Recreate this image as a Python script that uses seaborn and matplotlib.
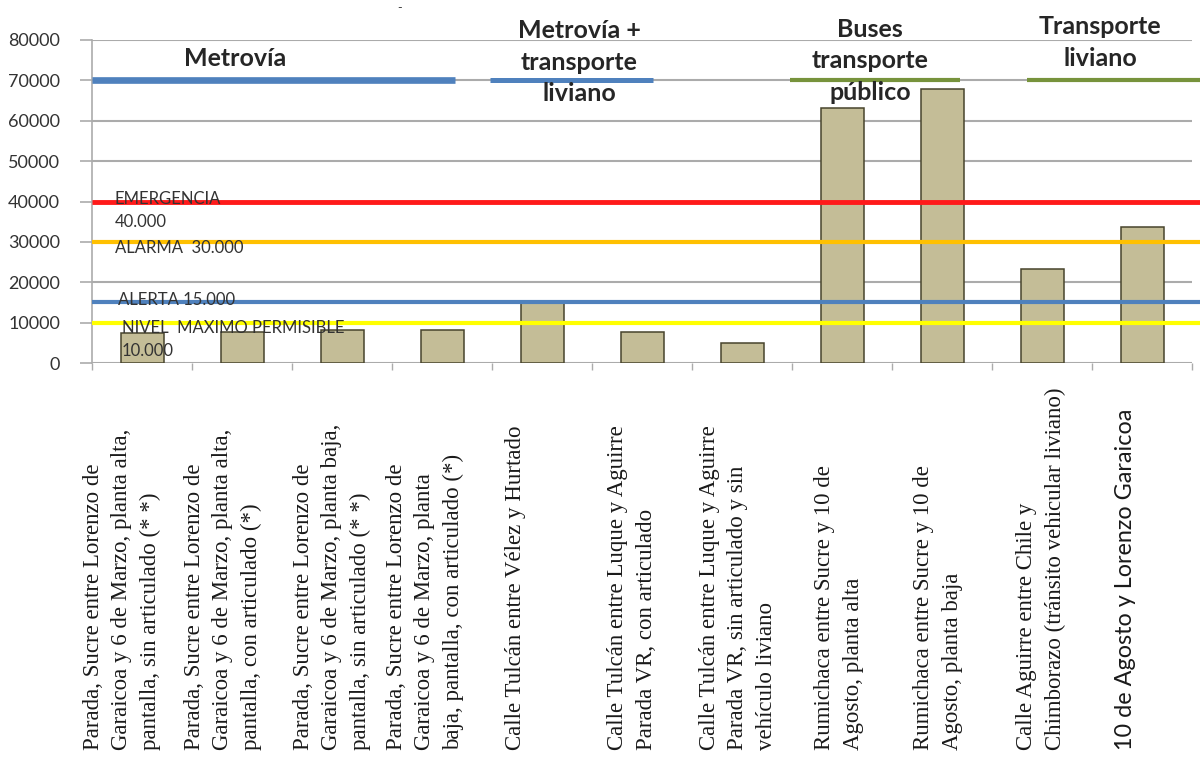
import matplotlib
matplotlib.use("Agg")
import matplotlib.pyplot as plt
import matplotlib.transforms as mtransforms
import pandas as pd
import seaborn as sns

# Sampling sites (x categories)
sites = [
    "Parada, Sucre entre Lorenzo de\nGaraicoa y 6 de Marzo, planta alta,\npantalla, sin articulado (* *)",
    "Parada, Sucre entre Lorenzo de\nGaraicoa y 6 de Marzo, planta alta,\npantalla, con articulado (*)",
    "Parada, Sucre entre Lorenzo de\nGaraicoa y 6 de Marzo, planta baja,\npantalla, sin articulado (* *)",
    "Parada, Sucre entre Lorenzo de\nGaraicoa y 6 de Marzo, planta\nbaja, pantalla, con articulado (*)",
    "Calle Tulcán entre Vélez y Hurtado",
    "Calle Tulcán entre Luque y Aguirre\nParada VR, con articulado",
    "Calle Tulcán entre Luque y Aguirre\nParada VR, sin articulado y sin\nvehículo liviano",
    "Rumichaca entre Sucre y 10 de\nAgosto, planta alta",
    "Rumichaca entre Sucre y 10 de\nAgosto, planta baja",
    "Calle Aguirre entre Chile y\nChimborazo (tránsito vehicular liviano)",
    "10 de Agosto y Lorenzo Garaicoa",
]
# Measured values
values = [7400, 7600, 8200, 8200, 15100, 7700, 5000, 63100, 67800, 23300, 33700]

# Threshold levels
threshold_values = [40000, 30000, 15000, 10000]
threshold_names = ["EMERGENCIA\n40.000", "ALARMA  30.000", "ALERTA 15.000",
                   "NIVEL  MAXIMO PERMISIBLE\n10.000"]
threshold_colors = ["#FF1A1A", "#FFC000", "#4F81BD", "#FFFF00"]

# Transport-mode groups shown above the bars
group_names = ["Metrovía", "Metrovía +\ntransporte\nliviano",
               "Buses\ntransporte\npúblico", "Transporte\nliviano"]
group_level = 70000
group_colors = ["#4F81BD", "#4F81BD", "#77933C", "#77933C"]

y_ticks = [0, 10000, 20000, 30000, 40000, 50000, 60000, 70000, 80000]

df = pd.DataFrame({"sitio": sites, "valor": values})

sns.set_theme(style="white")
plt.rcParams["font.family"] = ["Lato", "DejaVu Sans"]

fig = plt.figure(figsize=(12, 7.65), dpi=100)
ax = fig.add_axes([92 / 1200, 1 - 363 / 765, 1100 / 1200, 323 / 765])

sns.barplot(data=df, x="sitio", y="valor", color="#C4BD97", saturation=1,
            width=0.43, edgecolor="#48442C", linewidth=1.1, ax=ax, zorder=3)

ax.set_xlim(-0.5, len(sites) - 0.5)
ax.set_ylim(0, 80000)
ax.set_yticks(y_ticks)
ax.set_yticklabels([str(v) for v in y_ticks], fontsize=13, color="#333333")
ax.set_xticks([i - 0.5 for i in range(len(sites) + 1)])
ax.set_xticklabels([])
ax.set_xlabel("")
ax.set_ylabel("")

# Gridlines and axis styling
ax.grid(axis="y", color="#ABABAB", linewidth=1.5, zorder=0)
ax.grid(axis="x", visible=False)
for side in ["top", "right", "bottom"]:
    ax.spines[side].set_visible(False)
ax.spines["left"].set_color("#ABABAB")
ax.spines["left"].set_linewidth(1.2)
ax.tick_params(axis="y", length=9, width=1.2, color="#ABABAB", pad=14, left=True)
ax.tick_params(axis="x", length=5, width=1.0, color="#ABABAB", bottom=True, direction="out")

# Threshold lines with their labels
x_end = len(sites) - 0.42
th_label_pos = [(-0.27, 37770), (-0.27, 28480), (-0.24, 15600), (-0.20, 5820)]
th_widths = [3.5, 3.0, 3.0, 3.0]
for val, name, col, lw, (tx, ty) in zip(threshold_values, threshold_names,
                                         threshold_colors, th_widths, th_label_pos):
    ax.plot([-0.5, x_end], [val, val], color=col, linewidth=lw,
            solid_capstyle="butt", clip_on=False, zorder=4)
    ax.text(tx, ty, name, fontsize=12, color="#333333", ha="left", va="center",
            linespacing=1.55, zorder=6)

# Group bars and titles
group_spans = [(-0.5, 3.13), (3.48, 5.11), (6.48, 8.18), (8.85, x_end)]
group_widths = [4.8, 3.6, 3.0, 3.0]
group_label_pos = [(0.93, 75540), (4.37, 74550), (7.28, 74800), (9.58, 79380)]
for name, col, (x0, x1), lw, (gx, gy) in zip(group_names, group_colors, group_spans,
                                              group_widths, group_label_pos):
    ax.plot([x0, x1], [group_level, group_level], color=col, linewidth=lw,
            solid_capstyle="butt", clip_on=False, zorder=4)
    ax.text(gx, gy, name, fontsize=18, fontweight="bold", color="#262626",
            ha="center", va="center", linespacing=1.45, clip_on=False, zorder=6)

# Site labels, rotated and aligned to the bottom of the figure
label_shift = [-0.2, -0.19, -0.1, -0.17, -0.27, -0.1, -0.04, -0.03, -0.04, -0.01, -0.17]
trans = mtransforms.blended_transform_factory(ax.transData, fig.transFigure)
for i, (label, dx) in enumerate(zip(sites, label_shift)):
    if i == len(sites) - 1:
        fam, size = ["Lato", "DejaVu Sans"], 16.8
    else:
        fam, size = ["Liberation Serif", "DejaVu Serif"], 16.5
    ax.text(i + dx, 1 - 750 / 765, label, transform=trans, rotation=90,
            ha="center", va="bottom", multialignment="left", fontsize=size,
            family=fam, color="#1A1A1A", linespacing=1.45, clip_on=False)

fig.text(400 / 1200, 1 - 8 / 765, "-", fontsize=9, color="#404040", ha="center", va="center")

fig.savefig("out.png", dpi=100, facecolor="white")
